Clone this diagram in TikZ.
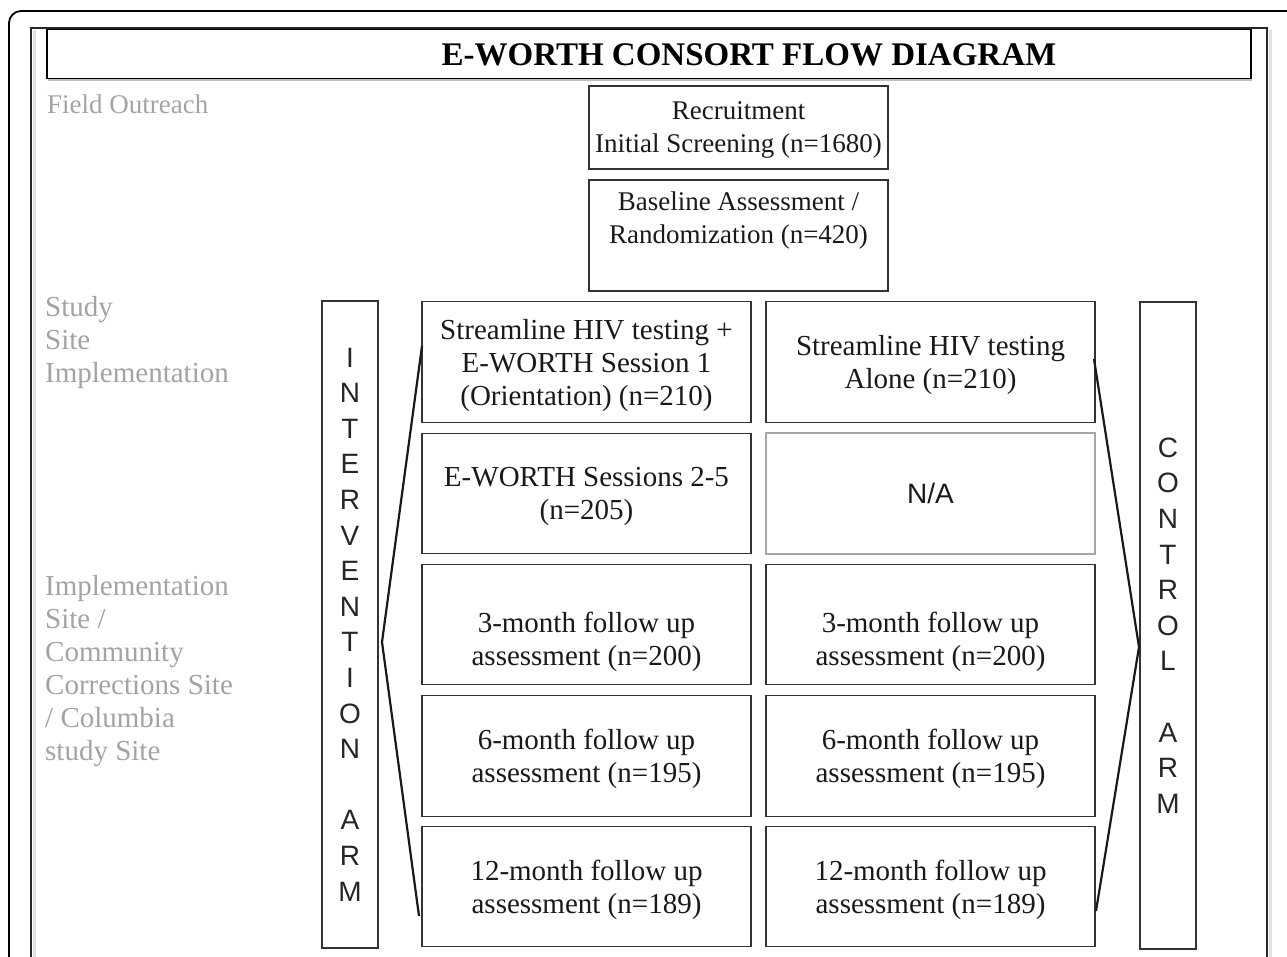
\documentclass[tikz,border=0pt]{standalone}
\usepackage{fontspec}
\setmainfont{Liberation Serif}
\setsansfont{Liberation Sans}
\usetikzlibrary{positioning}

\newcommand{\topfont}{\fontsize{27}{33}\selectfont}
\newcommand{\rowfont}{\fontsize{29}{33}\selectfont}
\newcommand{\armfont}{\sffamily\fontsize{28}{35.6}\selectfont}
\definecolor{sitegray}{gray}{0.64}

\tikzset{
  flowbox/.style={draw=black!80, line width=1.1pt, inner sep=0pt, align=center, text=black!90, text depth=0pt},
  topbox/.style={flowbox, minimum width=299pt, font=\topfont},
  rowbox/.style={flowbox, minimum width=329pt, minimum height=120.5pt, font=\rowfont},
  rowtext/.style={align=center, inner sep=0pt, font=\rowfont, text=black!90},
  armbox/.style={draw=black!80, line width=1.1pt, minimum width=56pt, minimum height=647pt, inner sep=0pt, align=center, font=\armfont, text=black!85},
  sitelabel/.style={anchor=west, align=left, inner sep=0pt, font=\rowfont, text=sitegray},
  bracket/.style={line width=2.2pt, black!90}
}

\begin{document}
\begin{tikzpicture}[x=1pt,y=-1pt]
  \useasboundingbox (0,0) rectangle (1287,957);
  \clip (0,0) rectangle (1287,957);

  % page frames
  \draw[line width=1.8pt, rounded corners=12pt] (9,11) rectangle (1330,1000);
  \draw[black!12, line width=3pt] (34.5,30) -- (34.5,970);
  \draw[black!12, line width=3pt] (1270.5,30) -- (1270.5,970);
  \draw[black!85, line width=1.3pt] (31,970) -- (31,28) -- (1267,28) -- (1267,970);

  % title
  \draw[black!25, line width=2pt] (48,80.5) -- (1252,80.5);
  \node[draw, line width=1.2pt, minimum width=1204pt, minimum height=49pt, inner sep=0pt] (title) at (649,54) {};
  \node[font=\fontsize{33}{36}\selectfont\bfseries, inner sep=0pt] (titletext) at (749,55) {E-WORTH CONSORT FLOW DIAGRAM};

  % site labels
  \node[sitelabel, font=\topfont] (field) at (47,104) {Field Outreach};
  \node[sitelabel] (study) at (45,343) {Study\\Site\\Implementation};
  \node[sitelabel] (implsite) at (45,671) {Implementation\\Site /\\Community\\Corrections Site\\/ Columbia\\study Site};

  % enrolment
  \node[topbox, minimum height=83pt] (recruit) at (738.5,127.5) {Recruitment\\Initial Screening (n=1680)};
  \node[topbox, minimum height=111pt] (baseline) at (738.5,235.5) {};
  \node[rowtext, font=\topfont] (baselinetext) at (738.5,221) {Baseline Assessment /\\Randomization (n=420)};

  % arms
  \node[armbox] (intarm) at (350,624.5) {I\\N\\T\\E\\R\\V\\E\\N\\T\\I\\O\\N\\\mbox{}\\A\\R\\M};
  \node[armbox] (ctrlarm) at (1168,625.5) {C\\O\\N\\T\\R\\O\\L\\\mbox{}\\A\\R\\M};

  % intervention column
  \node[rowbox] (int1) at (586.5,362) {Streamline HIV testing +\\E-WORTH Session 1\\(Orientation) (n=210)};
  \node[rowbox] (int2) at (586.5,493.5) {E-WORTH Sessions 2-5\\(n=205)};
  \node[rowbox] (int3) at (586.5,624.5) {};
  \node[rowtext] (int3text) at (586.5,642) {3-month follow up\\assessment (n=200)};
  \node[rowbox] (int4) at (586.5,756) {6-month follow up\\assessment (n=195)};
  \node[rowbox] (int5) at (586.5,886.5) {12-month follow up\\assessment (n=189)};

  % control column
  \node[rowbox] (ctrl1) at (930.5,362) {Streamline HIV testing\\Alone (n=210)};
  \node[rowbox, draw=black!35, line width=1.6pt, font=\armfont] (ctrl2) at (930.5,493.5) {N/A};
  \node[rowbox] (ctrl3) at (930.5,624.5) {};
  \node[rowtext] (ctrl3text) at (930.5,642) {3-month follow up\\assessment (n=200)};
  \node[rowbox] (ctrl4) at (930.5,756) {6-month follow up\\assessment (n=195)};
  \node[rowbox] (ctrl5) at (930.5,886.5) {12-month follow up\\assessment (n=189)};

  % brackets
  \draw[bracket] (422,346) -- (382,642) -- (419,916);
  \draw[bracket] (1094,359) -- (1139,647) -- (1096,911);
\end{tikzpicture}
\end{document}
